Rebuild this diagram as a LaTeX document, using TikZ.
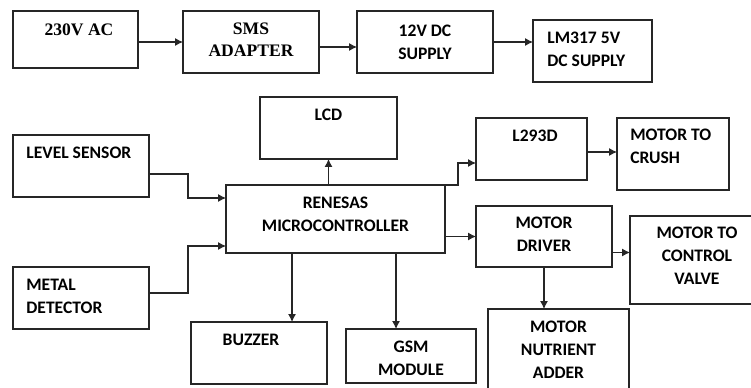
\documentclass[tikz,border=0pt]{standalone}
\usepackage{fontspec}
\setmainfont{Carlito}
\newfontfamily\timesbf{Liberation Serif}
\usetikzlibrary{calc,arrows.meta}

\tikzset{
  blk/.style={draw=black!85,line width=0.7pt,inner sep=0pt,outer sep=0pt},
  lab/.style={anchor=north,inner sep=0pt,align=center,yshift=-0.24cm,
    font=\bfseries\fontsize{10}{13}\selectfont},
  labl/.style={lab,anchor=north west,align=left,xshift=0.26cm},
  labs/.style={lab,font=\timesbf\bfseries\fontsize{10}{12.5}\selectfont},
  wire/.style={draw=black!85,line width=0.6pt}
}

\begin{document}
\begin{tikzpicture}[x=0.02cm,y=-0.02cm,>={Latex[length=4.5pt,width=4.5pt]}]
  \useasboundingbox (0,0) rectangle (751,388);
  \clip (0,0) rectangle (751,388);

  % power supply chain
  \node[blk,minimum width=2.5cm,minimum height=1.14cm,label={[labs,xshift=0.07cm]north:230V AC}] (ac) at (75.5,39.5) {};
  \node[blk,minimum width=2.72cm,minimum height=1.24cm,label={[labs]north:SMS\\ADAPTER}] (adapter) at (251,42) {};
  \node[blk,minimum width=2.72cm,minimum height=1.24cm,label={[lab,yshift=-0.03cm]north:12V DC\\SUPPLY}] (dc12) at (425,42) {};
  \node[blk,minimum width=2.38cm,minimum height=1.24cm,label={[labl,xshift=0.02cm]north west:LM317 5V\\DC SUPPLY}] (lm317) at (592.5,51) {};

  \draw[wire,->] (ac.east |- adapter.west) -- (adapter.west);
  \draw[wire,->] ($(adapter.east)+(0,5)$) coordinate (ad) -- (ad -| dc12.west);
  \draw[wire,->] (dc12.east) -- (dc12.east -| lm317.west);

  % controller and inputs
  \node[blk,minimum width=4.38cm,minimum height=1.36cm,label={[lab]north:RENESAS\\MICROCONTROLLER}] (micro) at (335.5,219) {};
  \node[blk,minimum width=2.74cm,minimum height=1.24cm,label={[lab]north:LCD}] (lcd) at (328.5,128) {};
  \node[blk,minimum width=2.72cm,minimum height=1.24cm,label={[labl]north west:LEVEL SENSOR}] (level) at (81,166) {};
  \node[blk,minimum width=2.72cm,minimum height=1.24cm,label={[labl]north west:METAL\\DETECTOR}] (metal) at (81,298) {};
  \node[blk,minimum width=2.72cm,minimum height=1.24cm,label={[lab,xshift=-0.16cm]north:BUZZER}] (buzzer) at (259,353) {};
  \node[blk,minimum width=2.6cm,minimum height=1.08cm,label={[lab]north:GSM\\MODULE}] (gsm) at (411,356) {};

  \draw[wire,->] (lcd.south |- micro.north) -- (lcd.south);
  \draw[wire,->] ($(level.east)+(0,8)$) -- ++(39,0) |- ($(micro.west)+(0,-21)$);
  \draw[wire,->] ($(metal.east)+(0,-5)$) -- ++(39,0) |- ($(micro.west)+(0,27)$);
  \draw[wire,->] ($(micro.south west)+(66,0)$) coordinate (bz) -- (bz |- buzzer.north);
  \draw[wire,->] ($(micro.south west)+(170,0)$) coordinate (gs) -- (gs |- gsm.north);

  % motor side
  \node[blk,minimum width=2.22cm,minimum height=1.24cm,label={[lab,xshift=0.07cm]north:L293D}] (l293d) at (531.5,149) {};
  \node[blk,minimum width=2.24cm,minimum height=1.44cm,label={[labl,yshift=0.02cm]north west:MOTOR TO\\CRUSH}] (crush) at (673,154) {};
  \node[blk,minimum width=2.72cm,minimum height=1.22cm,label={[lab,yshift=0.02cm]north:MOTOR\\DRIVER}] (driver) at (544,236.5) {};
  \node[blk,minimum width=2.68cm,minimum height=1.76cm,label={[lab,yshift=0.02cm]north:MOTOR TO\\CONTROL\\VALVE}] (valve) at (697,260) {};
  \node[blk,minimum width=2.82cm,minimum height=1.82cm,label={[lab]north:MOTOR\\NUTRIENT\\ADDER}] (nutrient) at (558.5,354.5) {};

  \draw[wire,->] (micro.north east) -- ++(13,0) |- ($(l293d.west)+(0,14)$);
  \draw[wire,->] (micro.east |- driver.west) -- (driver.west);
  \draw[wire,->] ($(l293d.east)+(0,3)$) coordinate (lc) -- (lc -| crush.west);
  \draw[wire,->] ($(driver.east)+(0,16)$) coordinate (dv) -- (dv -| valve.west);
  \draw[wire,->] (driver.south) -- (driver.south |- nutrient.north);
\end{tikzpicture}
\end{document}
